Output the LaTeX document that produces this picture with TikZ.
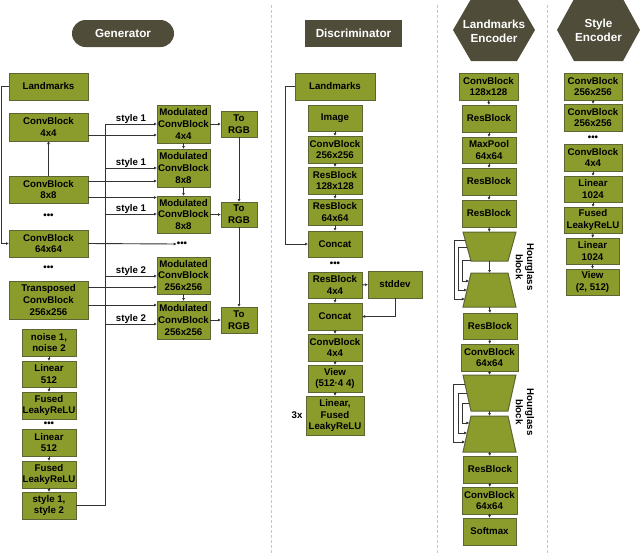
\documentclass[tikz,border=0pt]{standalone}
\usepackage{fontspec}
\setmainfont{Liberation Sans}
\usetikzlibrary{arrows.meta}
\definecolor{boxfill}{RGB}{139,156,44}
\definecolor{boxline}{RGB}{92,102,52}
\definecolor{hdr}{RGB}{79,76,57}
\definecolor{conn}{RGB}{51,51,51}
\newcommand\mybox[6]{\node[box,minimum width={#4-#2},minimum height={#5-#3}] (#1) at ({(#2+#4)/2},{(#3+#5)/2}) {#6};}
\begin{document}
\begin{tikzpicture}[x=1pt,y=-1pt,
  box/.style={draw=boxline,fill=boxfill,line width=1pt,inner sep=0pt,outer sep=0pt,align=center,font=\fontsize{9.7}{11.8}\selectfont\bfseries},
  arr/.style={draw=conn,line width=0.9pt,-{Latex[length=3pt,width=3pt]}},
  ln/.style={draw=conn,line width=0.9pt},
  lbl/.style={font=\fontsize{9.7}{11.2}\selectfont\bfseries,inner sep=0pt},
  hdrtext/.style={text=white,font=\fontsize{11.7}{14}\selectfont\bfseries,align=center},
  sepline/.style={draw=gray!45,line width=1pt,dash pattern=on 3pt off 2pt},
  trap/.style={draw=boxline,fill=boxfill,line width=1pt},
  ghost/.style={inner sep=0pt,outer sep=0pt}
]
\useasboundingbox (0,0) rectangle (640,555);
% separators
\draw[sepline] (271,5) -- (271,555);
\draw[sepline] (437,5) -- (437,555);
\draw[sepline] (547,5) -- (547,555);
% headers
\node[fill=hdr,rounded corners=13.5pt,minimum width=102pt,minimum height=27pt,hdrtext] (genH) at (123,33.5) {Generator};
\node[fill=hdr,minimum width=97pt,minimum height=27pt,hdrtext] (disH) at (353.5,33.5) {Discriminator};
\fill[hdr] (453,30) -- (471,-1) -- (517,-1) -- (535,30) -- (517,61) -- (471,61) -- cycle;
\node[hdrtext] (lmH) at (494,31) {Landmarks\\Encoder};
\fill[hdr] (557,30) -- (574,-1) -- (623,-1) -- (640,30) -- (623,61) -- (574,61) -- cycle;
\node[hdrtext] (stH) at (598.5,30) {Style\\Encoder};

% ---------------- Generator ----------------
\mybox{gLand}{9}{73}{88}{100}{Landmarks}
\mybox{gC4}{9}{113}{88}{141}{ConvBlock\\4x4}
\mybox{gC8}{9}{176}{88}{203}{ConvBlock\\8x8}
\mybox{gC64}{9}{230}{88}{257}{ConvBlock\\64x64}
\mybox{gT256}{9}{281}{88}{319}{Transposed\\ConvBlock\\256x256}
\mybox{gM4}{157}{105}{210}{143}{Modulated\\ConvBlock\\4x4}
\mybox{gM8a}{157}{149}{210}{187}{Modulated\\ConvBlock\\8x8}
\mybox{gM8b}{157}{196}{210}{233}{Modulated\\ConvBlock\\8x8}
\mybox{gM256a}{157}{257}{210}{294}{Modulated\\ConvBlock\\256x256}
\mybox{gM256b}{157}{301}{210}{339}{Modulated\\ConvBlock\\256x256}
\mybox{gR1}{221}{111}{257}{137}{To\\RGB}
\mybox{gR2}{221}{202}{257}{227}{To\\RGB}
\mybox{gR3}{221}{307}{257}{333}{To\\RGB}
\mybox{gN}{22}{329}{76}{356}{noise 1,\\noise 2}
\mybox{gL1}{22}{361}{76}{387}{Linear\\512}
\mybox{gF1}{22}{392}{76}{419}{Fused\\LeakyReLU}
\mybox{gL2}{22}{429}{76}{456}{Linear\\512}
\mybox{gF2}{22}{461}{76}{488}{Fused\\LeakyReLU}
\mybox{gS}{22}{492}{76}{519}{style 1,\\style 2}
\node[lbl] (gd1) at (48.5,216) {•••};
\node[lbl] (gd2) at (48.5,268) {•••};
\node[lbl] (gd3) at (49,424) {•••};
\node[lbl] (gd4) at (182,244) {•••};

\draw[arr] (gLand.west) -- ++(-8,0) |- (gC64.west);
\draw[arr] (gC8.north) -- (gC4.south);
\coordinate (s1) at (105,124);
\coordinate (s2) at (105,168);
\coordinate (s3) at (105,214);
\coordinate (s4) at (105,276);
\coordinate (s5) at (105,324);
\draw[ln] (gS.east) -| (s1);
\draw[arr] (s1) -- (s1 -| gM4.west) node[midway,above=0.5pt,lbl] {style 1};
\draw[arr] (s2) -- (s2 -| gM8a.west) node[midway,above=0.5pt,lbl] {style 1};
\draw[arr] (s3) -- (s3 -| gM8b.west) node[midway,above=0.5pt,lbl] {style 1};
\draw[arr] (s4) -- (s4 -| gM256a.west) node[midway,above=0.5pt,lbl] {style 2};
\draw[arr] (s5) -- (s5 -| gM256b.west) node[midway,above=0.5pt,lbl] {style 2};
\coordinate (c4o) at ([yshift=-8pt]gC4.east);
\coordinate (c8a) at ([yshift=8.5pt]gC8.east);
\coordinate (c8b) at ([yshift=-8pt]gC8.east);
\coordinate (t2a) at ([yshift=13pt]gT256.east);
\coordinate (t2b) at ([yshift=-5pt]gT256.east);
\draw[arr] (c4o) -- (c4o -| gM4.west);
\draw[arr] (c8a) -- (c8a -| gM8a.west);
\draw[arr] (c8b) -- (c8b -| gM8b.west);
\draw[arr] (t2a) -- (t2a -| gM256a.west);
\draw[arr] (t2b) -- (t2b -| gM256b.west);
\draw[arr] (gC64.east) -- (gd4.west);
\draw[arr] (gM4.south) -- (gM8a.north);
\draw[arr] (gM8a.south) -- (gM8b.north);
\draw[arr] (gM256a.south) -- (gM256b.north);
\draw[arr] (gM4.east) -- (gR1.west);
\draw[arr] (gM8b.east) -- (gR2.west);
\draw[arr] (gM256b.east) -- (gR3.west);
\draw[arr] (gR1.south) -- (gR2.north);
\draw[arr] (gR2.south) -- (gR3.north);
\draw[arr] (gN.south) -- (gL1.north);
\draw[arr] (gL1.south) -- (gF1.north);
\draw[arr] (gL2.south) -- (gF2.north);
\draw[arr] (gF2.south) -- (gS.north);

% ---------------- Discriminator ----------------
\mybox{dLand}{295}{73}{375}{100}{Landmarks}
\mybox{dImg}{308}{105}{362}{131}{Image}
\mybox{dC256}{308}{136}{362}{163}{ConvBlock\\256x256}
\mybox{dR128}{308}{167}{362}{194}{ResBlock\\128x128}
\mybox{dR64}{308}{199}{362}{225}{ResBlock\\64x64}
\mybox{dCat1}{308}{231}{362}{257}{Concat}
\node[lbl] (dd1) at (335,264) {•••};
\mybox{dR4}{308}{272}{362}{298}{ResBlock\\4x4}
\mybox{dStd}{368}{271}{422}{298}{stddev}
\mybox{dCat2}{308}{303}{362}{330}{Concat}
\mybox{dC4}{308}{334}{362}{361}{ConvBlock\\4x4}
\mybox{dView}{308}{365}{362}{392}{View\\(512·4 4)}
\mybox{dLin}{306}{396}{364}{435}{Linear,\\Fused\\LeakyReLU}
\node[lbl] (d3x) at (297,415) {3x};
\draw[arr] (dLand.west) -- ++(-9.5,0) |- (dCat1.west);
\draw[arr] (dImg.south) -- (dC256.north);
\draw[arr] (dC256.south) -- (dR128.north);
\draw[arr] (dR128.south) -- (dR64.north);
\draw[arr] (dR64.south) -- (dCat1.north);
\draw[arr] (dR4.east) -- (dStd.west);
\draw[arr] (dStd.south) |- (dCat2.east);
\draw[arr] (dR4.south) -- (dCat2.north);
\draw[arr] (dCat2.south) -- (dC4.north);
\draw[arr] (dC4.south) -- (dView.north);
\draw[arr] (dView.south) -- (dLin.north);

% ---------------- Landmarks Encoder ----------------
\mybox{lC128}{459}{73}{518}{100}{ConvBlock\\128x128}
\mybox{lR1}{462}{105}{516}{132}{ResBlock}
\mybox{lMP}{462}{137}{516}{163}{MaxPool\\64x64}
\mybox{lR2}{462}{168}{516}{195}{ResBlock}
\mybox{lR3}{462}{200}{516}{227}{ResBlock}
\node[ghost,minimum width=53pt,minimum height=29pt] (h1a) at (489.5,246.5) {};
\node[ghost,minimum width=53pt,minimum height=34pt] (h1b) at (489.5,290) {};
\mybox{lR4}{463}{313}{517}{339}{ResBlock}
\mybox{lC64a}{461}{344}{518}{371}{ConvBlock\\64x64}
\node[ghost,minimum width=53pt,minimum height=36pt] (h2a) at (489.5,393) {};
\node[ghost,minimum width=53pt,minimum height=36pt] (h2b) at (489.5,434) {};
\mybox{lR5}{463}{456}{517}{483}{ResBlock}
\mybox{lC64b}{462}{487}{517}{514}{ConvBlock\\64x64}
\mybox{lSoft}{463}{518}{516}{545}{Softmax}
\foreach \h in {h1a,h2a}{
  \draw[trap] (\h.north west) -- (\h.north east) -- ([xshift=-8pt]\h.south east) -- ([xshift=8pt]\h.south west) -- cycle;}
\foreach \h in {h1b,h2b}{
  \draw[trap] ([xshift=8pt]\h.north west) -- ([xshift=-8pt]\h.north east) -- (\h.south east) -- (\h.south west) -- cycle;}
\node[lbl,rotate=-90,align=center] (hg1) at (525,267) {Hourglass\\block};
\node[lbl,rotate=-90,align=center] (hg2) at (525,412) {Hourglass\\block};
\draw[arr] (lC128.south) -- (lR1.north);
\draw[arr] (lR1.south) -- (lMP.north);
\draw[arr] (lMP.south) -- (lR2.north);
\draw[arr] (lR2.south) -- (lR3.north);
\draw[arr] (lR3.south) -- (h1a.north);
\draw[arr] (h1a.south) -- (h1b.north);
\draw[arr] (h1b.south) -- (lR4.north);
\draw[arr] (lR4.south) -- (lC64a.north);
\draw[arr] (lC64a.south) -- (h2a.north);
\draw[arr] (h2a.south) -- (h2b.north);
\draw[arr] (h2b.south) -- (lR5.north);
\draw[arr] (lR5.south) -- (lC64b.north);
\draw[arr] (lC64b.south) -- (lSoft.north);
% skip connections hourglass 1
\draw[arr] ([shift={(2.2,8)}]h1a.north west) -- ++(-11.2,0) |- ([shift={(1.9,26)}]h1b.north west);
\draw[arr] ([shift={(4.1,15)}]h1a.north west) -- ++(-9.1,0) |- ([shift={(4,17)}]h1b.north west);
\draw[arr] ([shift={(7.7,28)}]h1a.north west) -- ++(-8.7,0) |- ([shift={(6.1,8)}]h1b.north west);
% skip connections hourglass 2
\draw[arr] ([shift={(2,9)}]h2a.north west) -- ++(-11.5,0) |- ([shift={(2.2,26)}]h2b.north west);
\draw[arr] ([shift={(4,18)}]h2a.north west) -- ++(-9,0) |- ([shift={(4.2,17)}]h2b.north west);
\draw[arr] ([shift={(6.2,28)}]h2a.north west) -- ++(-7.2,0) |- ([shift={(6.4,7)}]h2b.north west);

% ---------------- Style Encoder ----------------
\mybox{sC1}{564}{73}{622}{100}{ConvBlock\\256x256}
\mybox{sC2}{564}{104}{622}{131}{ConvBlock\\256x256}
\node[lbl] (sd1) at (593,138) {•••};
\mybox{sC4}{564}{144}{622}{171}{ConvBlock\\4x4}
\mybox{sL1}{564}{176}{622}{202}{Linear\\1024}
\mybox{sF}{564}{207}{622}{233}{Fused\\LeakyReLU}
\mybox{sL2}{566}{238}{619}{264}{Linear\\1024}
\mybox{sV}{566}{269}{619}{295}{View\\(2, 512)}
\draw[arr] (sC1.south) -- (sC2.north);
\draw[arr] (sC4.south) -- (sL1.north);
\draw[arr] (sL1.south) -- (sF.north);
\draw[arr] (sF.south) -- (sL2.north);
\draw[arr] (sL2.south) -- (sV.north);
\end{tikzpicture}
\end{document}
